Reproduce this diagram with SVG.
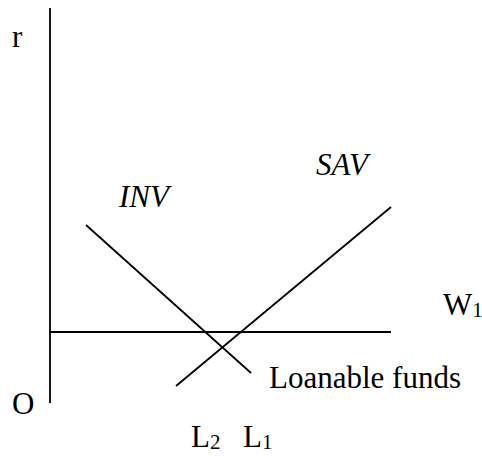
<svg xmlns="http://www.w3.org/2000/svg" width="482" height="458" viewBox="0 0 482 458">
<style>
.ln{stroke:#000;stroke-width:1.8;fill:none}
text{font-family:'Liberation Serif','Times New Roman','DejaVu Serif',serif;font-size:31px;fill:#000}
.i{font-style:italic}
.s{font-size:21px}
</style>
<rect width="482" height="458" fill="#fff"/>
<g id="connectors">
<line class="ln" x1="50" y1="8" x2="50" y2="403"/>
<line class="ln" x1="50" y1="332" x2="391" y2="332"/>
<line id="inv-line" class="ln" x1="86" y1="225" x2="251" y2="373"/>
<line id="sav-line" class="ln" x1="176" y1="386" x2="391" y2="207"/>
</g>
<g id="label-r"><text font-family="Liberation Serif, serif" x="12" y="47">r</text></g>
<g id="label-O"><text font-family="Liberation Serif, serif" x="12" y="414">O</text></g>
<g id="label-INV"><text font-family="Liberation Serif, serif" class="i" x="119" y="207">INV</text></g>
<g id="label-SAV"><text font-family="Liberation Serif, serif" class="i" x="316" y="175">SAV</text></g>
<g id="label-W1"><text font-family="Liberation Serif, serif" x="443" y="315">W<tspan class="s" dy="2">1</tspan></text></g>
<g id="label-loanable"><text font-family="Liberation Serif, serif" x="269" y="388">Loanable funds</text></g>
<g id="label-L2"><text font-family="Liberation Serif, serif" x="191" y="447">L<tspan class="s" dy="2">2</tspan></text></g>
<g id="label-L1"><text font-family="Liberation Serif, serif" x="243" y="447">L<tspan class="s" dy="2">1</tspan></text></g>
</svg>
